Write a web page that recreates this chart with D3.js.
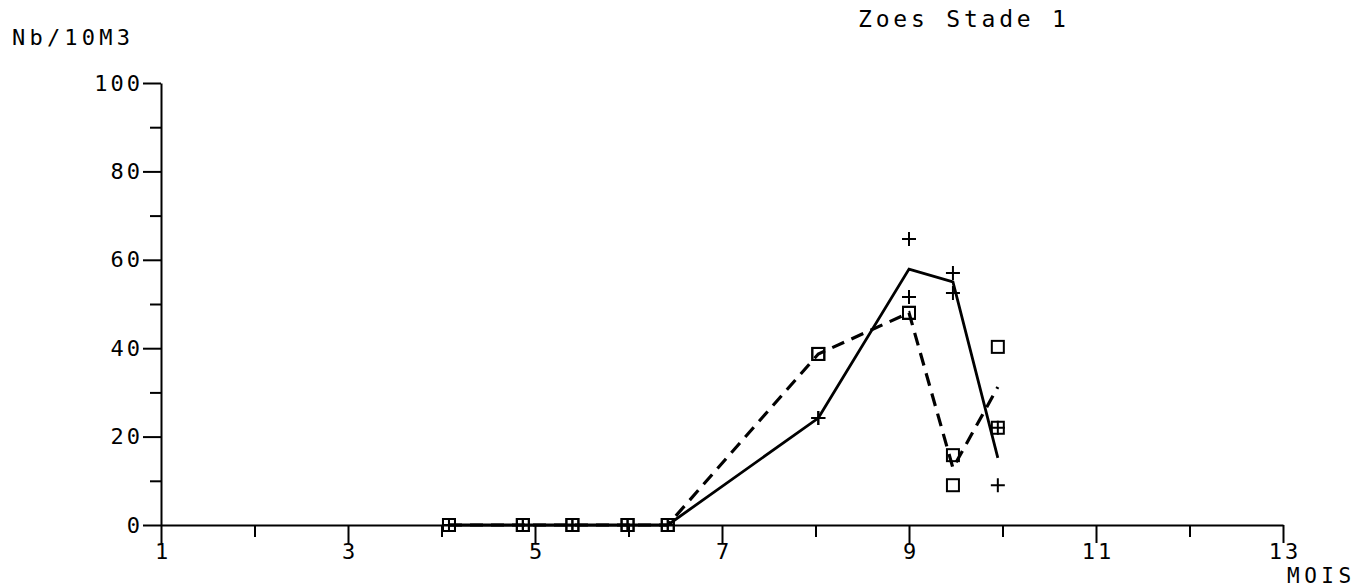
<!DOCTYPE html>
<html>
<head>
<meta charset="utf-8">
<script src="https://cdn.jsdelivr.net/npm/d3@7"></script>
<style>
  html, body { margin: 0; padding: 0; background: #fff; }
  svg { display: block; }
  text { font-family: "DejaVu Sans Mono", "Liberation Mono", monospace; fill: #000; }
</style>
</head>
<body>
<svg id="chart" width="1368" height="587"></svg>
<script>
// Sampling dates (month of year) and densities (Nb / 10 m3)
const months      = [4.08, 4.87, 5.40, 5.99, 6.42, 8.03, 9.00, 9.47, 9.95];
// individual samples, "+" marker
const plusA       = [0, 0, 0, 0, 0, 24.2, 64.7, 57.0, 22.0];
const plusB       = [0, 0, 0, 0, 0, 24.2, 51.6, 52.5, 9.0];
// individual samples, square marker
const squareA     = [0, 0, 0, 0, 0, 38.7, 48.0, 15.8, 40.3];
const squareB     = [0, 0, 0, 0, 0, 38.7, 48.0, 9.0, 22.0];
// mean curves
const solidLine   = [0, 0, 0, 0, 0, 24.2, 57.9, 55.0, 15.2];
const dashedLine  = [0, 0, 0, 0, 0, 38.7, 48.0, 12.9, 31.2];

// axis ticks
const xMajorTicks = [1, 3, 5, 7, 9, 11, 13];
const xMinorTicks = [2, 4, 6, 8, 10, 12];
const yMajorTicks = [0, 20, 40, 60, 80, 100];
const yMinorTicks = [10, 30, 50, 70, 90];

const titleText = "Zoes Stade 1";
const yTitle = "Nb/10M3";
const xTitle = "MOIS";

const svg = d3.select("#chart");
const x = d3.scaleLinear().domain([1, 13]).range([161, 1283]);
const y = d3.scaleLinear().domain([0, 100]).range([525, 83]);

const LS = 3; // letter spacing of the plotter-style tick labels

function styleAxis(g, labelled) {
  g.select(".domain").attr("stroke", "#000").attr("stroke-width", 2);
  g.selectAll(".tick line").attr("stroke", "#000").attr("stroke-width", 2);
  if (labelled) {
    g.selectAll(".tick text")
      .attr("font-size", 22)
      .attr("letter-spacing", LS)
      .attr("fill", "#000")
      .attr("font-family", "DejaVu Sans Mono, monospace");
  } else {
    g.selectAll(".tick text").remove();
  }
}

// Y axis: labelled major ticks and short minor ticks
const yMajor = svg.append("g").attr("transform", `translate(${x(1)},0)`)
  .call(d3.axisLeft(y).tickValues(yMajorTicks).tickSize(18).tickSizeOuter(0).tickPadding(3));
styleAxis(yMajor, true);
yMajor.selectAll(".tick text").attr("dx", LS);

const yMinor = svg.append("g").attr("transform", `translate(${x(1)},0)`)
  .call(d3.axisLeft(y).tickValues(yMinorTicks).tickSize(11).tickSizeOuter(0));
styleAxis(yMinor, false);
yMinor.select(".domain").remove();

// X axis: labelled odd months, shorter ticks for even months
const xMajor = svg.append("g").attr("transform", `translate(0,${y(0)})`)
  .call(d3.axisBottom(x).tickValues(xMajorTicks).tickSize(18).tickSizeOuter(0).tickPadding(0));
styleAxis(xMajor, true);
xMajor.selectAll(".tick text").attr("dx", LS / 2);

const xMinor = svg.append("g").attr("transform", `translate(0,${y(0)})`)
  .call(d3.axisBottom(x).tickValues(xMinorTicks).tickSize(12).tickSizeOuter(0));
styleAxis(xMinor, false);
xMinor.select(".domain").remove();

// titles
svg.append("text").attr("x", 858).attr("y", 27)
  .attr("font-size", 23).attr("letter-spacing", 3.8).text(titleText);
svg.append("text").attr("x", 12).attr("y", 45)
  .attr("font-size", 22).attr("letter-spacing", 4.2).text(yTitle);
svg.append("text").attr("x", 1287).attr("y", 583)
  .attr("font-size", 21).attr("letter-spacing", 4.5).text(xTitle);

// curves
const pts = vals => months.map((m, i) => [m, vals[i]]);
const line = d3.line().x(d => x(d[0])).y(d => y(d[1]));

svg.append("path").datum(pts(solidLine))
  .attr("d", line).attr("fill", "none")
  .attr("stroke", "#000").attr("stroke-width", 2.8).attr("stroke-linejoin", "miter");

svg.append("path").datum(pts(dashedLine))
  .attr("d", line).attr("fill", "none")
  .attr("stroke", "#000").attr("stroke-width", 3.2)
  .attr("stroke-dasharray", "13 8");

// markers
const plusSize = 7, sqSize = 6;
function drawPlus(vals) {
  const g = svg.append("g");
  pts(vals).forEach(d => {
    const cx = x(d[0]), cy = y(d[1]);
    g.append("path")
      .attr("d", `M${cx - plusSize},${cy}H${cx + plusSize}M${cx},${cy - plusSize}V${cy + plusSize}`)
      .attr("stroke", "#000").attr("stroke-width", 2).attr("fill", "none");
  });
}
function drawSquares(vals) {
  svg.append("g").selectAll("rect").data(pts(vals)).join("rect")
    .attr("x", d => x(d[0]) - sqSize)
    .attr("y", d => y(d[1]) - sqSize)
    .attr("width", sqSize * 2).attr("height", sqSize * 2)
    .attr("fill", "none").attr("stroke", "#000").attr("stroke-width", 2);
}
drawPlus(plusA);
drawPlus(plusB);
drawSquares(squareA);
drawSquares(squareB);
</script>
</body>
</html>
